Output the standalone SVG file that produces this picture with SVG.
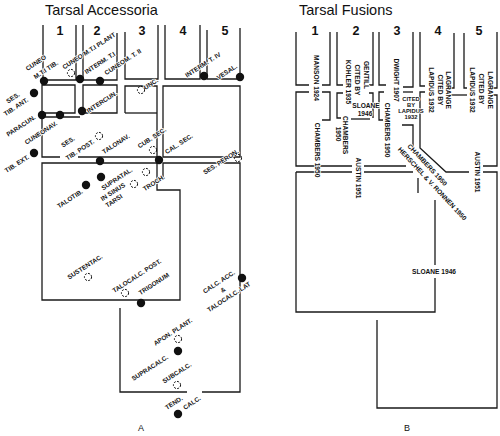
<svg xmlns="http://www.w3.org/2000/svg" width="500" height="436" viewBox="0 0 500 436">
<style>
.ln{fill:none;stroke:#1a1a1a;stroke-width:1.3}
.dot{fill:#111}
.dc{fill:none;stroke:#111;stroke-width:1;stroke-dasharray:2 1.3}
text{font-family:"Liberation Sans",Arial,sans-serif;fill:#111}
.lb{font-size:6.4px;font-weight:bold;stroke:#fff;stroke-width:1.6px;paint-order:stroke;stroke-linejoin:round}
.lbb{font-size:6.6px}
.sm{font-size:5.8px}
.ti{font-size:14.5px}
.nu{font-size:12.5px;font-weight:bold}
.pl{font-size:9px}
</style>
<rect width="500" height="436" fill="#fff"/>
<g id="panel-a">
<text class="ti" x="45" y="15">Tarsal Accessoria</text>
<g id="a-numbers" class="nu" text-anchor="middle">
<text x="60" y="35">1</text><text x="97" y="35">2</text><text x="142" y="35">3</text><text x="183" y="35">4</text><text x="225" y="35">5</text>
</g>
<g id="a-bones" class="ln">
<path d="M43,25 V80 H117 V33"/>
<path d="M76,25 V80"/>
<path d="M83,25 V80"/>
<path d="M125,32 V79 H158 V25"/>
<path d="M165,25 V79 H200 V25"/>
<path d="M207,30 V79 H240 V28"/>
<path d="M42,113 H75 V85 H42 V157 H60"/>
<path d="M45,117 H80"/>
<path d="M83,113 V85 H117 V113 H83"/>
<path d="M125,113 V86 H157 V157"/>
<path d="M125,113 H157"/>
<path d="M78,157 H157"/>
<path d="M42,163 H157 V190 H180 V300 H42 Z"/>
<path d="M163,157 V86 H240 V157 Z"/>
<path d="M163,178 V163 H240 V392 H202"/>
<path d="M187,392 H120 V308"/>
</g>
<g id="a-labels" class="lb" text-anchor="middle">
<text transform="translate(36,63) rotate(-33)" y="2">CUNEO</text>
<text transform="translate(46,70) rotate(-33)" y="2">M.T.I TIB.</text>
<text transform="translate(89,51) rotate(-33)" y="2">CUNEO M.T.I PLANT</text>
<text transform="translate(100,63) rotate(-33)" y="2">INTERM. T.I</text>
<text transform="translate(123,62) rotate(-33)" y="2">CUNEOM. T. II</text>
<text transform="translate(13,98) rotate(-33)" y="2">SES.</text>
<text transform="translate(16,107) rotate(-33)" y="2">TIB. ANT.</text>
<text transform="translate(102,102) rotate(-33)" y="2">INTERCUN.</text>
<text transform="translate(151,84) rotate(-33)" y="2">UNC.</text>
<text transform="translate(203,65) rotate(-33)" y="2">INTERM. T. IV</text>
<text transform="translate(227,72) rotate(-33)" y="2">VESAL.</text>
<text transform="translate(21,126) rotate(-33)" y="2">PARACUN.</text>
<text transform="translate(41,133) rotate(-33)" y="2">CUNEONAV.</text>
<text transform="translate(17,164) rotate(-33)" y="2">TIB. EXT.</text>
<text transform="translate(68,142) rotate(-33)" y="2">SES.</text>
<text transform="translate(80,150) rotate(-33)" y="2">TIB. POST.</text>
<text transform="translate(116,144) rotate(-33)" y="2">TALONAV.</text>
<text transform="translate(152,138) rotate(-33)" y="2">CUB. SEC.</text>
<text transform="translate(179,144) rotate(-33)" y="2">CAL. SEC.</text>
<text transform="translate(221,162) rotate(-33)" y="2">SES. PERON.</text>
<text transform="translate(117,179) rotate(-33)" y="2">SUPRATAL.</text>
<text transform="translate(70,199) rotate(-33)" y="2">TALOTIB.</text>
<text transform="translate(113,192) rotate(-33)" y="2">IN SINUS</text>
<text transform="translate(114,201) rotate(-33)" y="2">TARSI</text>
<text transform="translate(154,183) rotate(-33)" y="2">TROCH.</text>
<text transform="translate(85,267) rotate(-33)" y="2">SUSTENTAC.</text>
<text transform="translate(137,276) rotate(-33)" y="2">TALOCALC. POST.</text>
<text transform="translate(154,284) rotate(-33)" y="2">TRIGONUM</text>
<text transform="translate(219,282) rotate(-33)" y="2">CALC. ACC.</text>
<text transform="translate(223,290) rotate(-33)" y="2">&amp;</text>
<text transform="translate(229,297) rotate(-33)" y="2">TALOCALC. LAT</text>
<text transform="translate(173,332) rotate(-33)" y="2">APON. PLANT.</text>
<text transform="translate(150,368) rotate(-33)" y="2">SUPRACALC.</text>
<text transform="translate(177,373) rotate(-33)" y="2">SUBCALC.</text>
<text transform="translate(174,403) rotate(-33)" y="2">TEND.</text>
<text transform="translate(192,403) rotate(-33)" y="2">CALC.</text>
</g>
<g id="a-dots" class="dot">
<circle cx="44" cy="81" r="4.2"/><circle cx="80" cy="79" r="4.2"/><circle cx="100" cy="81" r="4.2"/>
<circle cx="34" cy="93" r="4.2"/><circle cx="42" cy="115" r="4.2"/><circle cx="60" cy="115" r="4.2"/>
<circle cx="82" cy="111" r="4.2"/><circle cx="204" cy="76" r="4.2"/><circle cx="240" cy="77" r="4.2"/>
<circle cx="34" cy="153" r="4.2"/><circle cx="100" cy="161" r="4.2"/><circle cx="159" cy="160" r="4.2"/>
<circle cx="101" cy="177" r="4.2"/><circle cx="86" cy="185" r="4.2"/><circle cx="141" cy="303" r="4.2"/>
<circle cx="242" cy="278" r="4.2"/><circle cx="178" cy="351" r="4.2"/><circle cx="178" cy="414" r="4.2"/>
</g>
<g id="a-dashed" class="dc">
<circle cx="71" cy="73" r="3.6"/><circle cx="141" cy="90" r="3.6"/><circle cx="99" cy="136" r="3.6"/>
<circle cx="153" cy="150" r="3.6"/><circle cx="238" cy="158" r="3.6"/><circle cx="146" cy="172" r="3.6"/>
<circle cx="134" cy="184" r="3.6"/><circle cx="88" cy="277" r="3.6"/><circle cx="125" cy="293" r="3.6"/>
<circle cx="178" cy="339" r="3.6"/><circle cx="177" cy="385" r="3.6"/>
</g>
<text class="pl" x="141" y="431" text-anchor="middle">A</text>
</g>
<g id="panel-b">
<text class="ti" x="299" y="15">Tarsal Fusions</text>
<g id="b-numbers" class="nu" text-anchor="middle">
<text x="315" y="35">1</text><text x="356" y="35">2</text><text x="397" y="35">3</text><text x="438" y="35">4</text><text x="479" y="35">5</text>
</g>
<g id="b-bones" class="ln">
<path d="M296,32 V85 H309"/><path d="M322,85 H330 V32"/>
<path d="M337,32 V85 H343"/><path d="M369,85 H373 V32"/>
<path d="M379,32 V85 H386"/><path d="M403,87 H413 V32"/>
<path d="M420,32 V86 H425"/><path d="M449,88 H454 V33"/>
<path d="M464,33 V88 H467"/><path d="M492,88 H497 V32"/>
<path d="M309,92 H296 V166 H352"/>
<path d="M322,92 H330 V120 H322"/>
<path d="M343,93 H337 V118 H341"/>
<path d="M369,93 H373 V118"/>
<path d="M351,119 H370"/>
<path d="M384,92 H379 V120 H383"/>
<path d="M403,92 H413"/>
<path d="M402,125 H413 V148"/>
<path d="M425,92 H420 V148 L446,172 H469"/>
<path d="M449,95 H467"/><path d="M492,95 H497 V166 H483"/>
<path d="M483,172 H497 V408 H377 V320"/>
<path d="M364,166 H406"/>
<path d="M296,172 H352"/><path d="M364,172 H413"/>
<path d="M418,178 V193"/>
<path d="M296,172 V312 H435 V278"/><path d="M435,265 V200"/>
</g>
<g id="b-labels" class="lb lbb" text-anchor="middle">
<text transform="translate(313.6,78) rotate(90)">MANSON 1924</text>
<text transform="translate(363.6,75) rotate(90)">GENTILL</text>
<text transform="translate(354.6,80) rotate(90)">CITED BY</text>
<text transform="translate(345.6,82) rotate(90)">KOHLER 1935</text>
<text transform="translate(314.6,150) rotate(90)">CHAMBERS 1950</text>
<text transform="translate(342.6,135) rotate(90)">CHAMBERS</text>
<text transform="translate(335.6,134) rotate(90)">1950</text>
<text x="366" y="108">SLOANE</text>
<text x="365" y="116">1946</text>
<text transform="translate(384.6,130) rotate(90)">CHAMBERS 1950</text>
<text transform="translate(393.6,80) rotate(90)">DWIGHT 1907</text>
<g class="sm">
<text x="411" y="101">CITED</text>
<text x="411" y="107">BY</text>
<text x="411" y="113">LAPIDUS</text>
<text x="411" y="119">1932</text>
</g>
<text transform="translate(445.6,90) rotate(90)">LAGRANGE</text>
<text transform="translate(437.6,90) rotate(90)">CITED BY</text>
<text transform="translate(428.6,90) rotate(90)">LAPIDUS 1932</text>
<text transform="translate(487.6,90) rotate(90)">LAGRANGE</text>
<text transform="translate(478.6,89) rotate(90)">CITED BY</text>
<text transform="translate(469.6,90) rotate(90)">LAPIDUS 1932</text>
<text transform="translate(355.6,178) rotate(90)">AUSTIN 1951</text>
<text transform="translate(474.6,172) rotate(90)">AUSTIN 1951</text>
<text transform="translate(427,165) rotate(47)" y="2">CHAMBERS 1950</text>
<text transform="translate(432,184) rotate(47)" y="2">HERSCHEL &amp; V. RONNEN 1950</text>
<text x="434" y="274">SLOANE 1946</text>
</g>
<text class="pl" x="407" y="431" text-anchor="middle">B</text>
</g>
</svg>
